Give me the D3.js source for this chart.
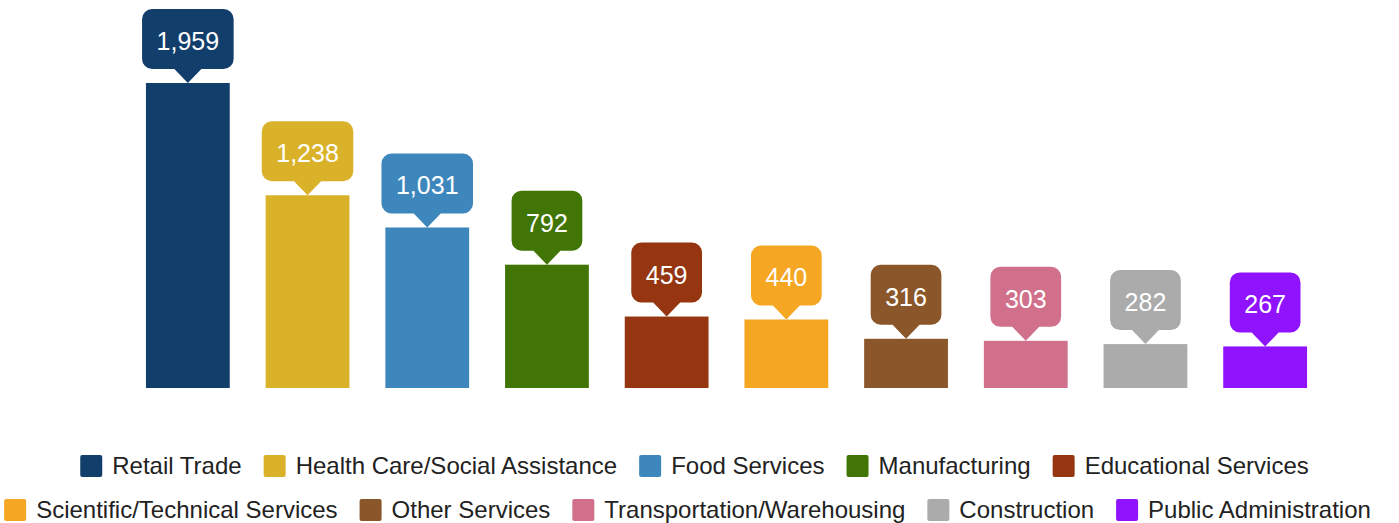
<!DOCTYPE html>
<html>
<head>
<meta charset="utf-8">
<script src="https://cdn.jsdelivr.net/npm/d3@7"></script>
<style>
  body { margin: 0; background: #fff; }
  svg { display: block; font-family: "Liberation Sans", Arial, sans-serif; }
</style>
</head>
<body>
<svg id="chart"></svg>
<script>
const categories = ["Retail Trade", "Health Care/Social Assistance", "Food Services", "Manufacturing",
  "Educational Services", "Scientific/Technical Services", "Other Services",
  "Transportation/Warehousing", "Construction", "Public Administration"];
const values = [1959, 1238, 1031, 792, 459, 440, 316, 303, 282, 267];
const colors = ["#123e6b", "#dab22a", "#3e87bd", "#417505", "#953610",
  "#f5a623", "#8b572a", "#d0708a", "#ababab", "#9013fe"];

const width = 1399, height = 523;
const baseY = 388;

const svg = d3.select("#chart").attr("width", width).attr("height", height);

const data = categories.map((c, i) => ({name: c, value: values[i], color: colors[i]}));

const x = d3.scaleBand()
    .domain(categories)
    .range([128, 1325])
    .paddingInner(0.3)
    .paddingOuter(0.15);

// 1959 lands at y=83
const y = d3.scaleLinear()
    .domain([0, 2500])
    .range([baseY, baseY - 2500 * (305 / 1959)]);

const fmt = d3.format(",");

// bars
svg.append("g").selectAll("rect")
    .data(data)
  .join("rect")
    .attr("x", d => x(d.name))
    .attr("y", d => y(d.value))
    .attr("width", x.bandwidth())
    .attr("height", d => baseY - y(d.value))
    .attr("fill", d => d.color);

// callouts
const boxH = 60, tipH = 14, tipW = 27, r = 10, padX = 14.5;
const callouts = svg.append("g").selectAll("g")
    .data(data)
  .join("g")
    .attr("transform", d => `translate(${x(d.name) + x.bandwidth() / 2},${y(d.value)})`);

callouts.append("text")
    .attr("text-anchor", "middle")
    .attr("y", -tipH - boxH + 41)
    .attr("fill", "#fff")
    .attr("font-size", 25)
    .text(d => fmt(d.value));

callouts.each(function() {
  const g = d3.select(this);
  const tw = g.select("text").node().getComputedTextLength();
  const w = tw + padX * 2;
  const top = -tipH - boxH, bot = -tipH, l = -w / 2, rr = w / 2;
  const p = d3.path();
  p.moveTo(l + r, top);
  p.lineTo(rr - r, top);
  p.arcTo(rr, top, rr, top + r, r);
  p.lineTo(rr, bot - r);
  p.arcTo(rr, bot, rr - r, bot, r);
  p.lineTo(tipW / 2, bot);
  p.lineTo(0, 0);
  p.lineTo(-tipW / 2, bot);
  p.lineTo(l + r, bot);
  p.arcTo(l, bot, l, bot - r, r);
  p.lineTo(l, top + r);
  p.arcTo(l, top, l + r, top, r);
  p.closePath();
  g.insert("path", "text")
      .attr("d", p.toString())
      .attr("fill", d => d.color);
});

// legend
const legend = svg.append("g");
const sw = 22, swGap = 10, itemGap = 22, fontSize = 24;
const rowYs = [466, 510], rowCenters = [694.5, 687.5];

const items = legend.selectAll("g")
    .data(data)
  .join("g");

items.append("rect")
    .attr("width", sw).attr("height", sw)
    .attr("y", -sw / 2)
    .attr("rx", 2)
    .attr("fill", d => d.color);

items.append("text")
    .attr("x", sw + swGap)
    .attr("dy", "0.35em")
    .attr("font-size", fontSize)
    .attr("fill", "#222")
    .text(d => d.name);

// wrap items into rows and center each one
const widths = [];
items.each(function() {
  widths.push(sw + swGap + d3.select(this).select("text").node().getComputedTextLength());
});
const rows = [[]];
let rowW = 0;
widths.forEach((w, i) => {
  const add = (rows[rows.length - 1].length ? itemGap : 0) + w;
  if (rowW + add > width - 10 && rows[rows.length - 1].length) {
    rows.push([i]);
    rowW = w;
  } else {
    rows[rows.length - 1].push(i);
    rowW += add;
  }
});
const nodes = items.nodes();
rows.forEach((row, ri) => {
  const total = d3.sum(row, i => widths[i]) + itemGap * (row.length - 1);
  let cx = (rowCenters[ri] || width / 2) - total / 2;
  row.forEach(i => {
    d3.select(nodes[i]).attr("transform", `translate(${cx},${rowYs[ri]})`);
    cx += widths[i] + itemGap;
  });
});
</script>
</body>
</html>
